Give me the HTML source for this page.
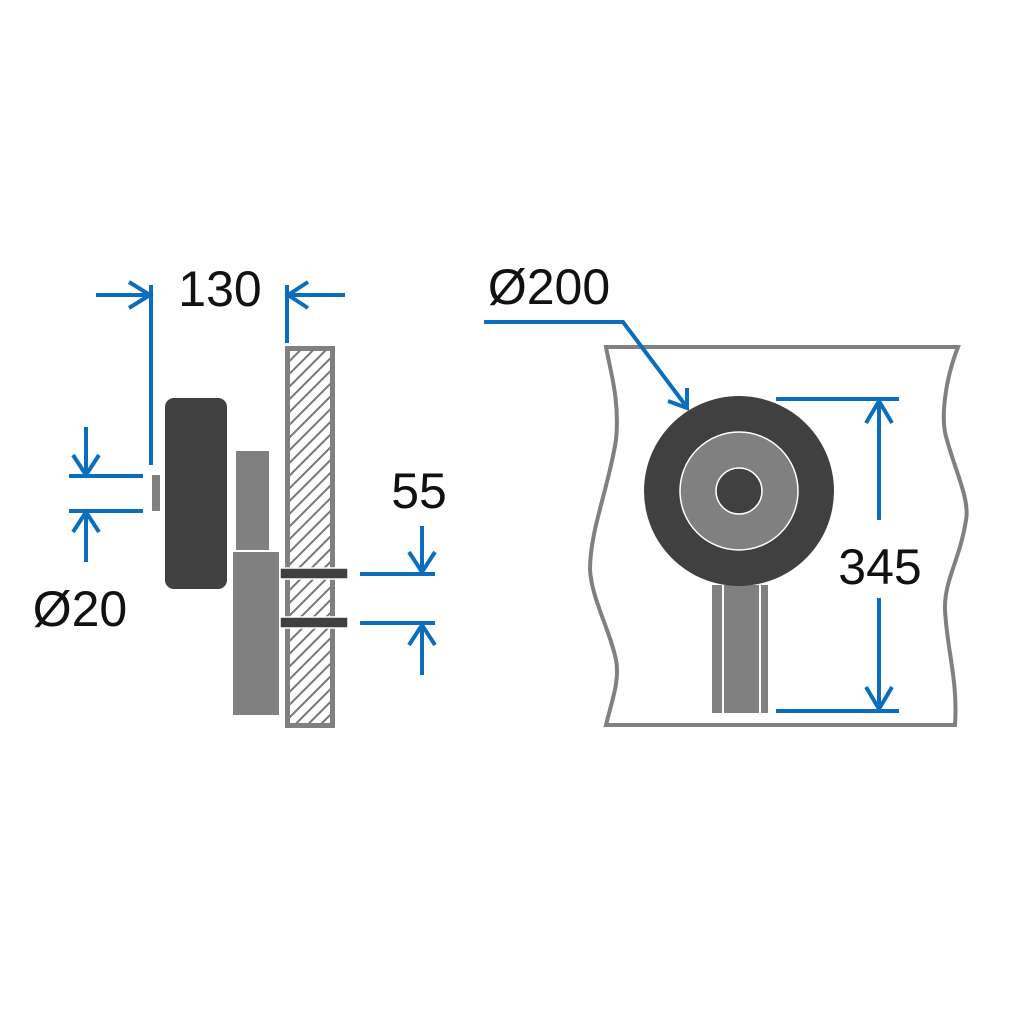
<!DOCTYPE html>
<html><head><style>html,body{margin:0;padding:0;background:#fff}svg{display:block}</style></head>
<body>
<svg width="1024" height="1024" viewBox="0 0 1024 1024" xmlns="http://www.w3.org/2000/svg">
<defs>
<pattern id="h" width="9" height="9" patternUnits="userSpaceOnUse" patternTransform="rotate(45)">
<rect width="9" height="9" fill="#fff"/><rect x="0" y="0" width="2" height="9" fill="#777"/>
</pattern>
</defs>
<!-- left view -->
<rect x="287.5" y="348.5" width="45" height="377" fill="url(#h)" stroke="#808080" stroke-width="5"/>
<rect x="165" y="398" width="62" height="191" rx="9" fill="#404040"/>
<rect x="152" y="475" width="8" height="36" fill="#808080"/>
<rect x="236" y="451" width="33" height="99" fill="#808080"/>
<rect x="233" y="552" width="46" height="163" fill="#808080"/>
<rect x="280" y="568" width="68" height="11" fill="#404040" stroke="#fff" stroke-width="1.5"/>
<rect x="280" y="617" width="68" height="11" fill="#404040" stroke="#fff" stroke-width="1.5"/>
<!-- right view -->
<path d="M606 347H958C945 380 940 420 947 440C955 470 970 500 966 520C960 560 944 580 945 610C947 650 958 680 955 725H606C612 700 620 680 616 660C610 630 592 600 590 570C590 530 608 490 616 440C620 400 610 370 606 347Z" fill="#fff" stroke="#808080" stroke-width="4"/>
<rect x="712" y="585" width="10" height="128" fill="#808080"/>
<rect x="724" y="585" width="35" height="128" fill="#808080"/>
<rect x="761" y="585" width="7" height="128" fill="#808080"/>
<circle cx="739" cy="491" r="95" fill="#404040"/>
<circle cx="739" cy="491" r="59" fill="#808080" stroke="#fff" stroke-width="1.5"/>
<circle cx="739" cy="491" r="23" fill="#404040" stroke="#fff" stroke-width="1.5"/>
<g stroke="#0a6ebd" stroke-width="4" fill="none">
<path d="M96 295H148M151 285V465"/>
<path d="M129 282L150 295L129 308"/>
<path d="M287 285V343M289 295H345"/>
<path d="M308 282L288 295L308 308"/>
<path d="M69 476H143M69 511H143"/>
<path d="M86 427V474M73 455L86 475L99 455"/>
<path d="M86 513V562M73 532L86 512L99 532"/>
<path d="M360 574H435M360 623H435"/>
<path d="M422 526V572M409 552L422 572L435 552"/>
<path d="M422 625V675M409 645L422 625L435 645"/>
<path d="M484 322H623L686 406"/>
<path d="M668 401L687 408L687 388"/>
<path d="M776 399H899M776 711H899"/>
<path d="M879 401V520M866 423L879 401L892 423"/>
<path d="M879 598V709M866 687L879 709L892 687"/>
</g>
<g font-family="Liberation Sans, sans-serif" font-size="50" fill="#111">
<text x="220" y="306" text-anchor="middle">130</text>
<text x="80" y="626" text-anchor="middle">Ø20</text>
<text x="419" y="508" text-anchor="middle">55</text>
<text x="549" y="304" text-anchor="middle">Ø200</text>
<text x="880" y="584" text-anchor="middle">345</text>
</g>
</svg>
</body></html>
